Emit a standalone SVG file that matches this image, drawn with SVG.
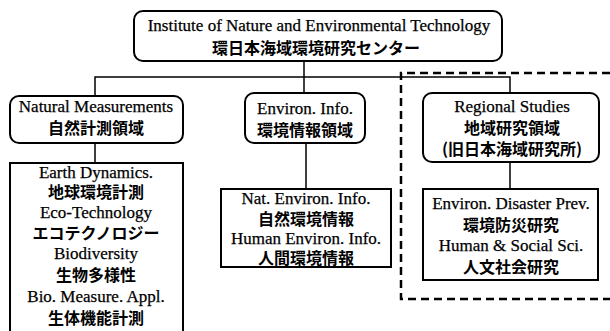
<svg xmlns="http://www.w3.org/2000/svg" width="610" height="331" viewBox="0 0 610 331">
<style>
.box{fill:#fff;stroke:#000;stroke-width:2}
.con{fill:none;stroke:#000;stroke-width:1.5}
.dash{fill:none;stroke:#000;stroke-width:2.5;stroke-dasharray:8 5}
.en{font-family:"Liberation Serif","Times New Roman",serif;font-size:17px;text-anchor:middle;fill:#000;stroke:#000;stroke-width:0.25}
.jp{font-family:"Noto Sans CJK JP","Noto Sans CJK SC",sans-serif;font-size:16px;font-weight:bold;text-anchor:middle;fill:#000}
</style>
<rect width="610" height="331" fill="#fff"/>
<g id="connectors">
<path class="con" d="M95,143 V77 H510 V93"/>
<path class="con" d="M304,61 V93"/>
<path class="con" d="M95,143 V163"/>
<path class="con" d="M306,143 V189"/>
<path class="con" d="M510,162 V189"/>
</g>
<g id="regional-group">
<path class="dash" d="M610,73 H401 V299 H610"/>
</g>
<g id="top">
<rect class="box" x="134" y="11" width="368" height="50" rx="9"/>
<text class="en" x="319" y="31">Institute of Nature and Environmental Technology</text>
<text class="jp" x="316" y="54">環日本海域環境研究センター</text>
</g>
<g id="natural">
<rect class="box" x="10" y="96" width="173" height="47" rx="9"/>
<text class="en" x="96" y="112">Natural Measurements</text>
<text class="jp" x="96" y="134">自然計測領域</text>
</g>
<g id="natural-sub">
<rect class="box" x="10" y="163" width="173" height="170"/>
<text class="en" x="96" y="178">Earth Dynamics.</text>
<text class="jp" x="96" y="198">地球環境計測</text>
<text class="en" x="96" y="218">Eco-Technology</text>
<text class="jp" x="96" y="239">エコテクノロジー</text>
<text class="en" x="96" y="259">Biodiversity</text>
<text class="jp" x="96" y="281">生物多様性</text>
<text class="en" x="96" y="302">Bio. Measure. Appl.</text>
<text class="jp" x="96" y="324">生体機能計測</text>
</g>
<g id="environ">
<rect class="box" x="245" y="93" width="120" height="50" rx="9"/>
<text class="en" x="305" y="114">Environ. Info.</text>
<text class="jp" x="305" y="136">環境情報領域</text>
</g>
<g id="environ-sub">
<rect class="box" x="221" y="189" width="170" height="78"/>
<text class="en" x="306" y="204">Nat. Environ. Info.</text>
<text class="jp" x="306" y="225">自然環境情報</text>
<text class="en" x="306" y="244">Human Environ. Info.</text>
<text class="jp" x="306" y="264">人間環境情報</text>
</g>
<g id="regional">
<rect class="box" x="423" y="93" width="176" height="69" rx="9"/>
<text class="en" x="512" y="112">Regional Studies</text>
<text class="jp" x="512" y="134">地域研究領域</text>
<text class="jp" x="512" y="155">(旧日本海域研究所)</text>
</g>
<g id="regional-sub">
<rect class="box" x="423" y="189" width="175" height="91"/>
<text class="en" x="511" y="209">Environ. Disaster Prev.</text>
<text class="jp" x="511" y="231">環境防災研究</text>
<text class="en" x="511" y="251">Human &amp; Social Sci.</text>
<text class="jp" x="511" y="273">人文社会研究</text>
</g>
</svg>
